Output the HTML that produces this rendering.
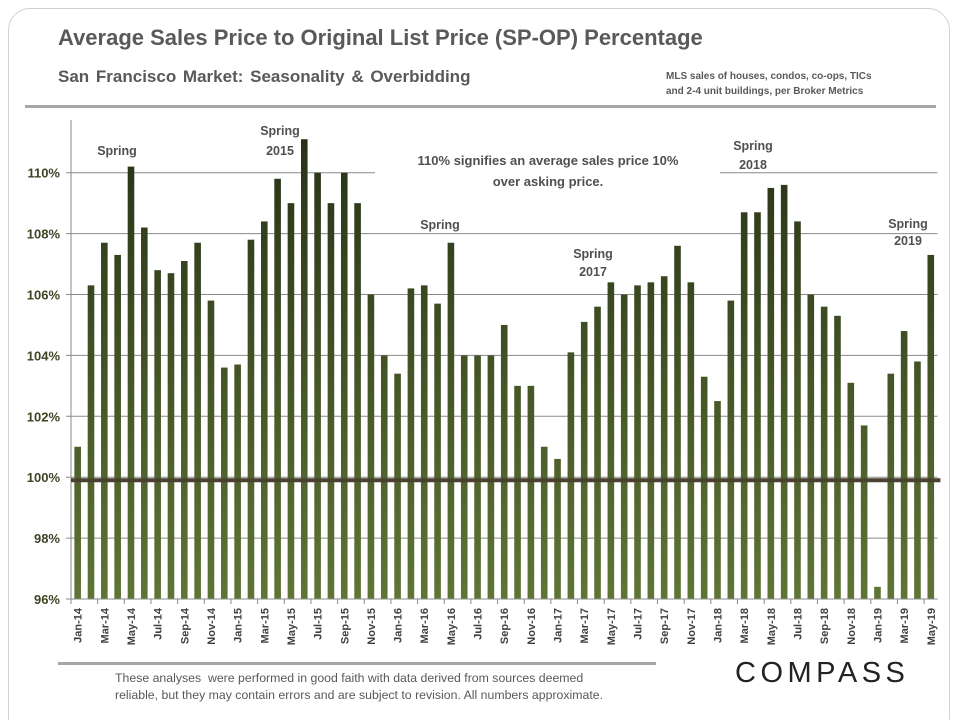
<!DOCTYPE html>
<html><head><meta charset="utf-8"><style>
body{margin:0;background:#fff;font-family:"Liberation Sans",sans-serif}
#wrap{position:relative;width:960px;height:720px;overflow:hidden}
.t{position:absolute;color:#595959;white-space:nowrap}
</style></head><body>
<div id="wrap">
<div style="position:absolute;left:8px;top:8px;width:940px;height:730px;border:1px solid #d0d0d0;border-radius:22px"></div>
<div class="t" style="left:58px;top:25px;font-size:22px;font-weight:bold">Average Sales Price to Original List Price (SP-OP) Percentage</div>
<div class="t" style="left:58px;top:67px;font-size:17px;font-weight:bold;word-spacing:2px">San Francisco Market: Seasonality &amp; Overbidding</div>
<div class="t" style="left:666px;top:69px;font-size:10px;font-weight:bold;line-height:15px">MLS sales of houses, condos, co-ops, TICs<br>and 2-4 unit buildings, per Broker Metrics</div>
<div style="position:absolute;left:25px;top:105px;width:911px;height:3px;background:#a6a6a6"></div>
<svg id="chart" width="960" height="720" style="position:absolute;left:0;top:0"></svg>
<div class="t" style="left:58px;top:662px;width:598px;height:3px;background:#a6a6a6"></div>
<div class="t" style="left:115px;top:670px;font-size:12.3px;line-height:17px">These analyses&nbsp; were performed in good faith with data derived from sources deemed<br>reliable, but they may contain errors and are subject to revision. All numbers approximate.</div>
<div class="t" style="left:735px;top:657px;font-size:29px;letter-spacing:4.5px;color:#222">COMPASS</div>
</div>
<script>
const categories=["Jan-14","Feb-14","Mar-14","Apr-14","May-14","Jun-14","Jul-14","Aug-14","Sep-14","Oct-14","Nov-14","Dec-14","Jan-15","Feb-15","Mar-15","Apr-15","May-15","Jun-15","Jul-15","Aug-15","Sep-15","Oct-15","Nov-15","Dec-15","Jan-16","Feb-16","Mar-16","Apr-16","May-16","Jun-16","Jul-16","Aug-16","Sep-16","Oct-16","Nov-16","Dec-16","Jan-17","Feb-17","Mar-17","Apr-17","May-17","Jun-17","Jul-17","Aug-17","Sep-17","Oct-17","Nov-17","Dec-17","Jan-18","Feb-18","Mar-18","Apr-18","May-18","Jun-18","Jul-18","Aug-18","Sep-18","Oct-18","Nov-18","Dec-18","Jan-19","Feb-19","Mar-19","Apr-19","May-19"];
const values=[101.0,106.3,107.7,107.3,110.2,108.2,106.8,106.7,107.1,107.7,105.8,103.6,103.7,107.8,108.4,109.8,109.0,111.1,110.0,109.0,110.0,109.0,106.0,104.0,103.4,106.2,106.3,105.7,107.7,104.0,104.0,104.0,105.0,103.0,103.0,101.0,100.6,104.1,105.1,105.6,106.4,106.0,106.3,106.4,106.6,107.6,106.4,103.3,102.5,105.8,108.7,108.7,109.5,109.6,108.4,106.0,105.6,105.3,103.1,101.7,96.4,103.4,104.8,103.8,107.3];
const yTicks=[96,98,100,102,104,106,108,110];
const yTickLabels=["96%","98%","100%","102%","104%","106%","108%","110%"];
const svg=document.getElementById('chart');
const NS='http://www.w3.org/2000/svg';
const x0=71,band=13.33,y96=599,ppu=30.45;
const yS=v=>y96-(v-96)*ppu;
const xS=i=>x0+band*(i+0.5);
function mk(t,a){const e=document.createElementNS(NS,t);for(const k in a)e.setAttribute(k,a[k]);svg.appendChild(e);return e;}
const defs=mk('defs',{});
defs.innerHTML='<linearGradient id="g" x1="0" y1="0" x2="0" y2="1" gradientUnits="userSpaceOnUse"><stop offset="0" stop-color="#263016"/><stop offset="1" stop-color="#5f7535"/></linearGradient>';
defs.querySelector('linearGradient').setAttribute('y1',yS(111.5));defs.querySelector('linearGradient').setAttribute('y2',y96);
yTicks.forEach((v,i)=>{
 const l=mk('line',{x1:66,x2:x0+band*65,y1:yS(v),y2:yS(v),stroke:'#8a8a8a','stroke-width':1});
 
 
 const t=mk('text',{x:60,y:yS(v)+5,'text-anchor':'end','font-size':13,'font-weight':'bold',fill:'#3d4424','font-family':'Liberation Sans, sans-serif'});
 t.textContent=yTickLabels[i];
 
 
});
const ab=mk('rect',{x:375,y:145,width:345,height:50,fill:'#fff'});


const ax=mk('line',{x1:x0,x2:x0,y1:120,y2:604,stroke:'#8a8a8a'});


values.forEach((v,i)=>{
 const top=Math.min(yS(v),y96),h=Math.abs(y96-yS(v));
 const r=mk('rect',{x:xS(i)-3.3,y:top,width:6.6,height:h,fill:'url(#g)'});
 
 
});
const bl=mk('line',{x1:x0,x2:x0+band*65+3,y1:yS(99.9),y2:yS(99.9),stroke:'#4a4230','stroke-width':4});


const xa=mk('line',{x1:x0,x2:x0+band*65,y1:y96,y2:y96,stroke:'#8a8a8a'});


categories.forEach((c,i)=>{
 if(i%2)return;
 const tk=mk('line',{x1:x0+band*i,x2:x0+band*i,y1:y96,y2:y96+5,stroke:'#8a8a8a'});
 
 
 const t=mk('text',{x:0,y:0,transform:`translate(${xS(i)+4},${y96+9}) rotate(-90)`,'text-anchor':'end','font-size':11,'font-weight':'bold',fill:'#404040','font-family':'Liberation Sans, sans-serif'});
 t.textContent=c;
 
 
});
const notes=[["Spring",117,155],["Spring",280,135],["2015",280,155],["Spring",440,229],["Spring",593,258],["2017",593,276],["Spring",753,150],["2018",753,169],["Spring",908,228],["2019",908,245],["110% signifies an average sales price 10%",548,165],["over asking price.",548,186]];
notes.forEach(n=>{
 const t=mk('text',{x:n[1],y:n[2],'text-anchor':'middle','font-size':n[0].length>10?13:12.5,'font-weight':'bold',fill:'#505050','font-family':'Liberation Sans, sans-serif'});
 t.textContent=n[0];
 
 
});
</script>
</body></html>
